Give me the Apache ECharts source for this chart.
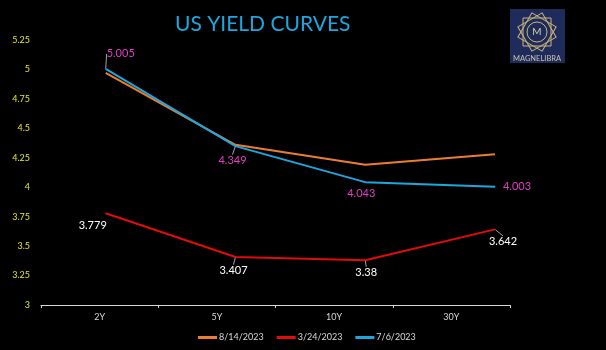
<!DOCTYPE html>
<html>
<head>
<meta charset="utf-8">
<script src="https://cdn.jsdelivr.net/npm/echarts@6/dist/echarts.min.js"></script>
<style>
  html, body { margin: 0; padding: 0; background: #000; }
  #chart { width: 606px; height: 350px; }
</style>
</head>
<body>
<div id="chart"></div>
<script>
// Treasury tenors and yields (%) for three dates
var tenors = ['2Y', '5Y', '10Y', '30Y'];
var seriesNames = ['8/14/2023', '3/24/2023', '7/6/2023'];
var yieldsAug14 = [4.97, 4.36, 4.19, 4.28];
var yieldsMar24 = [3.779, 3.407, 3.38, 3.642];
var yieldsJul6 = [5.005, 4.349, 4.043, 4.003];
var yTicks = { min: 3, max: 5.25, step: 0.25 };

// Label placement relative to each point: [dx, dy, leader line?]
var placeJul6 = [[15, -15, true], [-3, 14, true], [-4, 11, false], [22, 0, false]];
var placeMar24 = [[-13, 12, false], [-2, 13, true], [1, 12, true], [8, 12, true]];

var FONT = 'Lato, "Liberation Sans", sans-serif';

function labelled(values, place) {
  return values.map(function (v, i) {
    return { value: v, labelLine: { show: place[i][2] } };
  });
}
function layoutFrom(place) {
  return function (p) {
    var o = place[p.dataIndex];
    return { dx: o[0], dy: o[1] };
  };
}

var chart = echarts.init(document.getElementById('chart'), null, { renderer: 'canvas' });

chart.setOption({
  backgroundColor: '#000000',
  animation: false,
  title: {
    text: 'US YIELD CURVES',
    left: 170,
    top: 9,
    textStyle: { color: '#1ea7df', fontSize: 21, fontWeight: 'normal', fontFamily: FONT }
  },
  legend: {
    left: 193,
    top: 328,
    itemWidth: 19,
    itemHeight: 3,
    itemGap: 13,
    icon: 'rect',
    data: seriesNames,
    textStyle: { color: '#d9d9d9', fontSize: 9, fontFamily: FONT, padding: [0, 0, 0, -3] }
  },
  grid: [
    { left: 41, right: 96, top: 40, bottom: 45 },
    { left: 105.7, right: 111, top: 40, bottom: 45 }
  ],
  xAxis: [
    {
      type: 'category', gridIndex: 0, data: tenors, boundaryGap: true,
      axisLine: { lineStyle: { color: '#d9d9d9', width: 1 } },
      axisTick: { show: true, length: 3, lineStyle: { color: '#d9d9d9' } },
      axisLabel: { color: '#d9d9d9', fontSize: 9, fontFamily: FONT, margin: 8 }
    },
    {
      type: 'category', gridIndex: 1, data: tenors, boundaryGap: false, show: false
    }
  ],
  yAxis: [
    {
      type: 'value', gridIndex: 0, min: yTicks.min, max: yTicks.max, interval: yTicks.step,
      axisLine: { show: false }, axisTick: { show: false }, splitLine: { show: false },
      axisLabel: { color: '#e6e62a', fontSize: 9, fontFamily: FONT, margin: 11 }
    },
    {
      type: 'value', gridIndex: 1, min: yTicks.min, max: yTicks.max, interval: yTicks.step, show: false
    }
  ],
  graphic: [
    {
      type: 'group',
      left: 510, top: 9,
      children: [
        { type: 'rect', shape: { x: 0, y: 0, width: 55, height: 54 }, style: { fill: '#1f2b5b' } },
        { type: 'rect', shape: { x: 13, y: 9, width: 28, height: 28 }, originX: 27, originY: 23, rotation: 0,
          style: { fill: 'none', stroke: '#cbb57c', lineWidth: 1 } },
        { type: 'rect', shape: { x: 13, y: 9, width: 28, height: 28 }, originX: 27, originY: 23, rotation: Math.PI / 6,
          style: { fill: 'none', stroke: '#cbb57c', lineWidth: 1 } },
        { type: 'rect', shape: { x: 13, y: 9, width: 28, height: 28 }, originX: 27, originY: 23, rotation: Math.PI / 3,
          style: { fill: 'none', stroke: '#cbb57c', lineWidth: 1 } },
        { type: 'circle', shape: { cx: 27, cy: 23, r: 10 }, style: { fill: '#1f2b5b', stroke: '#cbb57c', lineWidth: 1 } },
        { type: 'text', style: { x: 27, y: 23, text: 'M', fill: '#d8cda8', fontSize: 10, fontFamily: FONT,
          align: 'center', verticalAlign: 'middle' } },
        { type: 'text', style: { x: 27, y: 50, text: 'MAGNELIBRA', fill: '#c9c3b0', fontSize: 7.5, fontFamily: FONT,
          align: 'center', verticalAlign: 'middle' } }
      ]
    }
  ],
  series: [
    {
      name: seriesNames[0], type: 'line', xAxisIndex: 1, yAxisIndex: 1,
      data: yieldsAug14, symbol: 'none',
      color: '#ed7d31', lineStyle: { width: 2, color: '#ed7d31' }
    },
    {
      name: seriesNames[1], type: 'line', xAxisIndex: 1, yAxisIndex: 1,
      data: labelled(yieldsMar24, placeMar24),
      symbol: 'circle', symbolSize: 1,
      color: '#e30b0b', lineStyle: { width: 2, color: '#e30b0b' },
      label: { show: true, position: 'inside', color: '#ffffff', fontSize: 11, fontFamily: FONT },
      labelLine: { lineStyle: { color: '#a6a6a6', width: 1 } },
      labelLayout: layoutFrom(placeMar24)
    },
    {
      name: seriesNames[2], type: 'line', xAxisIndex: 1, yAxisIndex: 1,
      data: labelled(yieldsJul6, placeJul6),
      symbol: 'circle', symbolSize: 1,
      color: '#1ea7df', lineStyle: { width: 2, color: '#1ea7df' },
      label: { show: true, position: 'inside', color: '#e03fc3', fontSize: 11, fontFamily: FONT },
      labelLine: { lineStyle: { color: '#a6a6a6', width: 1 } },
      labelLayout: layoutFrom(placeJul6)
    }
  ]
});
</script>
</body>
</html>
